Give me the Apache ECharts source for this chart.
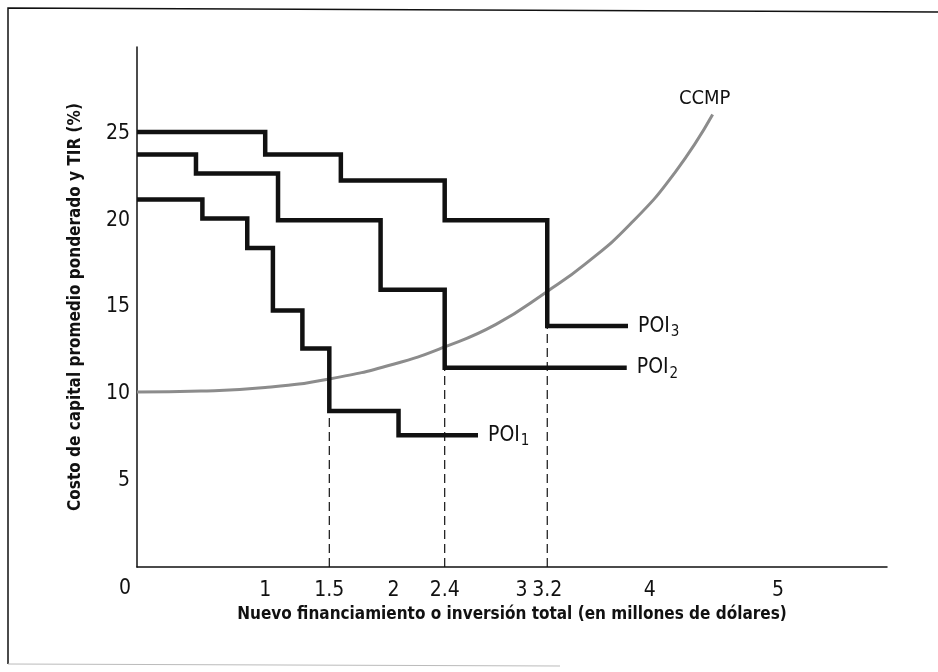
<!DOCTYPE html>
<html>
<head>
<meta charset="utf-8">
<script src="https://cdn.jsdelivr.net/npm/echarts@6/dist/echarts.min.js"></script>
<style>
html,body{margin:0;padding:0;background:#fff;}
#c{width:938px;height:672px;}
</style>
</head>
<body>
<div id="c"></div>
<script>
// ---- data ----
var xTickLabels = [1, 1.5, 2, 2.4, 3, 3.2, 4, 5];
var yTickLabels = [5, 10, 15, 20, 25];

// POI step schedules: x = start of each level (millions), y = IRR level (%)
var poi1X = [0, 0.51, 0.86, 1.06, 1.29, 1.5, 2.04, 2.66];
var poi1Y = [21.2, 20.1, 18.4, 14.8, 12.6, 9.0, 7.6, 7.6];
var poi2X = [0, 0.46, 1.10, 1.90, 2.4, 3.82];
var poi2Y = [23.8, 22.7, 20.0, 16.0, 11.5, 11.5];
var poi3X = [0, 1.0, 1.59, 2.4, 3.2, 3.83];
var poi3Y = [25.1, 23.8, 22.3, 20.0, 13.9, 13.9];

// CCMP (WMCC) curve
var ccmpX = [0, 0.5, 1.0, 1.5, 2.0, 2.4, 2.8, 3.2, 3.5, 3.85, 4.2, 4.49];
var ccmpY = [10.1, 10.15, 10.35, 10.85, 11.7, 12.7, 14.0, 15.9, 17.5, 19.8, 22.8, 26.1];

// dashed intersection guides: x value and top y
var guideX = [1.5, 2.4, 3.2];
var guideTop = [9.0, 11.5, 13.9];

function pairs(xs, ys) { return xs.map(function (x, i) { return [x, ys[i]]; }); }

var FONT = "'Liberation Sans Narrow', 'DejaVu Sans Condensed', 'Roboto Condensed', sans-serif";

function poiSeries(name, xs, ys, sub) {
  return {
    type: 'line', name: name, step: 'end', data: pairs(xs, ys),
    symbol: 'none', z: 5,
    lineStyle: { color: '#111', width: 4.5, cap: 'butt', join: 'miter' },
    endLabel: {
      show: true, distance: 10,
      formatter: '{a|POI}{s|' + sub + '}',
      rich: {
        a: { fontFamily: FONT, fontSize: 21, color: '#111' },
        s: { fontFamily: FONT, fontSize: 15, color: '#111', padding: [12, 0, 0, 1] }
      }
    }
  };
}

var series = [
  poiSeries('POI1', poi1X, poi1Y, '1'),
  poiSeries('POI2', poi2X, poi2Y, '2'),
  poiSeries('POI3', poi3X, poi3Y, '3'),
  {
    type: 'line', name: 'CCMP', data: pairs(ccmpX, ccmpY), smooth: 0.5,
    symbol: 'none', z: 4,
    lineStyle: { color: '#8c8c8c', width: 3 },
    endLabel: {
      show: true, formatter: 'CCMP', fontFamily: FONT, fontSize: 20, color: '#111',
      align: 'center', verticalAlign: 'bottom', offset: [-16, -6]
    }
  }
];
guideX.forEach(function (gx, i) {
  series.push({
    type: 'line', data: [[gx, 0], [gx, guideTop[i]]], symbol: 'none', z: 3,
    lineStyle: { color: '#111', width: 1.2, type: [9, 5] }, silent: true
  });
});

var chart = echarts.init(document.getElementById('c'), null, { renderer: 'canvas' });
chart.setOption({
  animation: false,
  backgroundColor: '#fff',
  grid: { left: 137, right: 51, top: 47, bottom: 105, containLabel: false },
  xAxis: {
    type: 'value', min: 0, max: 5.85,
    name: 'Nuevo financiamiento o inversión total (en millones de dólares)',
    nameLocation: 'middle', nameGap: 37,
    nameTextStyle: { fontFamily: FONT, fontSize: 17, fontWeight: 'bold', color: '#111' },
    axisLine: { show: true, onZero: false, lineStyle: { color: '#111', width: 1.5 } },
    axisTick: { show: false },
    splitLine: { show: false },
    axisLabel: {
      customValues: xTickLabels, margin: 13,
      fontFamily: FONT, fontSize: 21, color: '#111',
      formatter: function (v) { return String(v); }
    }
  },
  yAxis: {
    type: 'value', min: 0, max: 30,
    name: 'Costo de capital promedio ponderado y TIR (%)',
    nameLocation: 'middle', nameGap: 53, nameRotate: 90,
    nameTextStyle: { fontFamily: FONT, fontSize: 17, fontWeight: 'bold', color: '#111' },
    axisLine: { show: true, lineStyle: { color: '#111', width: 1.5 } },
    axisTick: { show: false },
    splitLine: { show: false },
    axisLabel: {
      customValues: yTickLabels, margin: 7,
      fontFamily: FONT, fontSize: 21, color: '#111'
    }
  },
  graphic: [
    { type: 'text', left: 119, top: 578, style: { text: '0', fontFamily: FONT, fontSize: 21, fill: '#111' } },
    { type: 'polyline', shape: { points: [[8, 664], [8, 8], [938, 12]] }, style: { stroke: '#111', lineWidth: 1.5, fill: null } },
    { type: 'line', shape: { x1: 8, y1: 664, x2: 560, y2: 666 }, style: { stroke: '#bbb', lineWidth: 1 } }
  ],
  series: series
});
</script>
</body>
</html>
